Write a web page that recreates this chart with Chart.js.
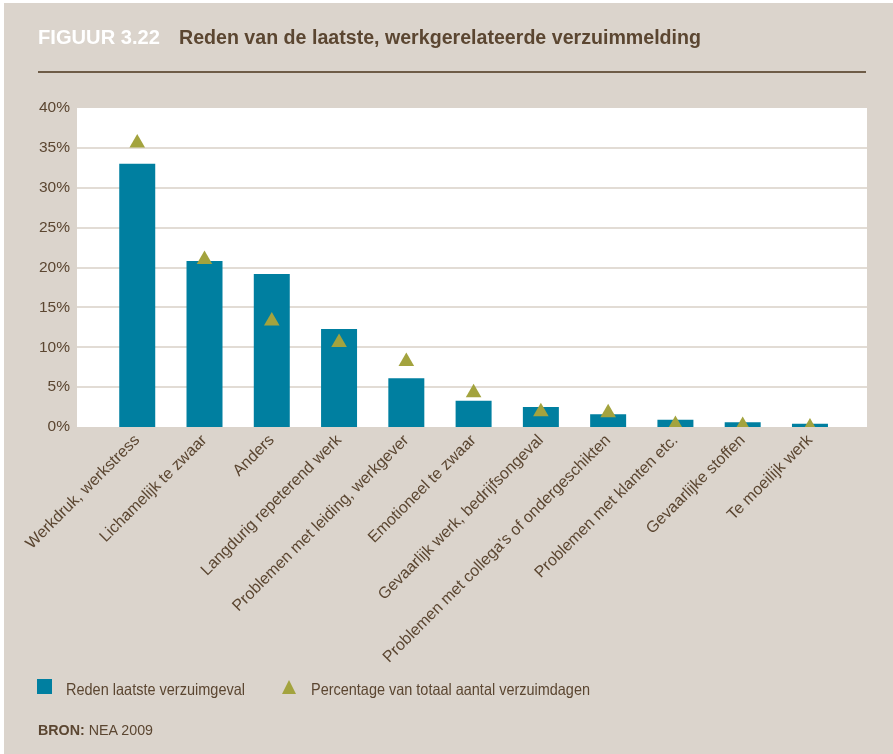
<!DOCTYPE html>
<html>
<head>
<meta charset="utf-8">
<script src="https://cdn.jsdelivr.net/npm/chart.js@4.4.1/dist/chart.umd.min.js"></script>
<style>
  html, body { margin: 0; padding: 0; background: #ffffff; }
  #panel { position: absolute; left: 4px; top: 3px; width: 889px; height: 751px; background: #dbd4cc; }
  #wrap { position: absolute; left: 0; top: 0; width: 893px; height: 754px; }
  .txt { position: absolute; font-family: "Liberation Sans", Arial, sans-serif; color: #5b4631; white-space: nowrap; transform-origin: 0 0; display: inline-block; }
  .title { font-weight: bold; font-size: 20px; line-height: 20px; top: 27px; }
  .rule { position: absolute; left: 38px; top: 71px; width: 828px; height: 2px; background: #6e5c47; }
  .legend { font-size: 16.5px; line-height: 16.5px; top: 681px; }
  .sq { position: absolute; left: 37px; top: 679px; width: 15px; height: 15px; background: #007fa0; }
  .tri { position: absolute; left: 282px; top: 680px; width: 0; height: 0; border-left: 7.5px solid transparent; border-right: 7.5px solid transparent; border-bottom: 14px solid #a3a33e; }
  .bron { font-size: 15px; line-height: 15px; top: 722px; }
  canvas { position: absolute; left: 0; top: 0; }
</style>
</head>
<body>
<div id="panel"></div>
<div id="wrap">
  <canvas id="c" width="893" height="754"></canvas>
  <div class="txt title" style="left:38px;color:#ffffff" data-w="122">FIGUUR 3.22</div>
  <div class="txt title" style="left:179px" data-w="522">Reden van de laatste, werkgerelateerde verzuimmelding</div>
  <div class="rule"></div>
  <div class="sq"></div>
  <div class="txt legend" style="left:66px" data-w="179">Reden laatste verzuimgeval</div>
  <div class="tri"></div>
  <div class="txt legend" style="left:311px" data-w="279">Percentage van totaal aantal verzuimdagen</div>
  <div class="txt bron" style="left:38px" data-w="115"><b>BRON:</b> NEA 2009</div>
</div>
<script>
const categories = [
  "Werkdruk, werkstress",
  "Lichamelijk te zwaar",
  "Anders",
  "Langdurig repeterend werk",
  "Problemen met leiding, werkgever",
  "Emotioneel te zwaar",
  "Gevaarlijk werk, bedrijfsongeval",
  "Problemen met collega's of ondergeschikten",
  "Problemen met klanten etc.",
  "Gevaarlijke stoffen",
  "Te moeilijk werk"
];
const redenLaatsteVerzuimgeval = [33, 20.8, 19.2, 12.3, 6.1, 3.3, 2.5, 1.6, 0.9, 0.6, 0.4];
const percentageVerzuimdagen = [35.6, 21, 13.3, 10.6, 8.2, 4.3, 1.9, 1.8, 0.3, 0.2, 0];
const yTickValues = [0, 5, 10, 15, 20, 25, 30, 35, 40];

document.querySelectorAll('[data-w]').forEach(el => {
  const w = el.getBoundingClientRect().width;
  const target = parseFloat(el.getAttribute('data-w'));
  if (w > 0) el.style.transform = 'scaleX(' + (target / w) + ')';
});

const plotBg = {
  id: 'plotBg',
  beforeDraw(chart) {
    const ctx = chart.ctx, y = chart.scales.y, a = chart.chartArea;
    const left = 77, right = 867;
    ctx.save();
    ctx.fillStyle = '#ffffff';
    ctx.fillRect(left, a.top, right - left, a.bottom - a.top);
    ctx.strokeStyle = '#e2dcd5';
    ctx.lineWidth = 2;
    y.ticks.forEach(t => {
      if (t.value === 0 || t.value === 40) return;
      const py = Math.round(y.getPixelForValue(t.value));
      ctx.beginPath();
      ctx.moveTo(left, py);
      ctx.lineTo(right, py);
      ctx.stroke();
    });
    ctx.restore();
  }
};

new Chart(document.getElementById('c'), {
  data: {
    labels: categories,
    datasets: [
      {
        type: 'line',
        label: 'Percentage van totaal aantal verzuimdagen',
        data: percentageVerzuimdagen,
        showLine: false,
        pointStyle: 'triangle',
        pointRadius: 9,
        pointHoverRadius: 9,
        pointBackgroundColor: '#a3a33e',
        pointBorderColor: '#a3a33e',
        pointBorderWidth: 0,
        order: 0
      },
      {
        type: 'bar',
        label: 'Reden laatste verzuimgeval',
        data: redenLaatsteVerzuimgeval,
        backgroundColor: '#007fa0',
        barPercentage: 0.535,
        categoryPercentage: 1,
        order: 1
      }
    ]
  },
  options: {
    responsive: false,
    animation: false,
    layout: { padding: { top: 108, right: 49.4, bottom: 0, left: 0 } },
    plugins: { legend: { display: false }, tooltip: { enabled: false } },
    scales: {
      x: {
        offset: true,
        grid: { display: false, drawTicks: false },
        border: { display: false },
        ticks: {
          autoSkip: false,
          maxRotation: 45,
          minRotation: 45,
          padding: 4,
          color: '#5b4631',
          font: { family: '"Liberation Sans", Arial, sans-serif', size: 16 }
        },
        afterFit(scale) { scale.height = 327; }
      },
      y: {
        min: 0,
        max: 40,
        afterBuildTicks(scale) { scale.ticks = yTickValues.map(v => ({ value: v })); },
        grid: { display: false, drawTicks: false },
        border: { display: false },
        ticks: {
          padding: 33.6,
          color: '#5b4631',
          font: { family: '"Liberation Sans", Arial, sans-serif', size: 15.5 },
          callback: v => v + '%'
        },
        afterFit(scale) { scale.width = 103.6; }
      }
    }
  },
  plugins: [plotBg]
});
</script>
</body>
</html>
